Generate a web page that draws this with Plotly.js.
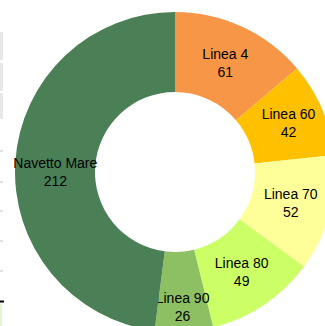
<!DOCTYPE html>
<html>
<head>
<meta charset="utf-8">
<script src="https://cdn.plot.ly/plotly-3.0.1.min.js"></script>
<style>
html,body{margin:0;padding:0;overflow:hidden;width:325px;height:326px;background:#fff;}
#chart{width:340px;height:340px;}
</style>
</head>
<body>
<div id="chart"></div>
<script>
const labels = ["Linea 4", "Linea 60", "Linea 70", "Linea 80", "Linea 90", "Navetto Mare"];
const values = [61, 42, 52, 49, 26, 212];
const colors = ["#F79646", "#FFC000", "#FFFF99", "#CCFF66", "#8CC063", "#4B8057"];

const W = 340, H = 340, L = 15, T = 12, R = 5, B = 8;
const PW = W - L - R, PH = H - T - B;
function px(x){ return (x - L) / PW; }
function py(y){ return 1 - (y - T) / PH; }

const shapes = [];
[[32,60],[63,91],[93,119]].forEach(([a,b]) => {
  shapes.push({type:"rect", xref:"paper", yref:"paper", x0:px(0), x1:px(3), y0:py(b), y1:py(a),
    fillcolor:"#e8e8e8", line:{width:0}, layer:"below"});
});
[151,182,211,241,271].forEach(y => {
  shapes.push({type:"line", xref:"paper", yref:"paper", x0:px(0), x1:px(3), y0:py(y), y1:py(y),
    line:{color:"#c0c0c0", width:1}, layer:"below"});
});
shapes.push({type:"line", xref:"paper", yref:"paper", x0:px(0), x1:px(4), y0:py(301.5), y1:py(301.5),
  line:{color:"#000", width:2}, layer:"below"});
shapes.push({type:"rect", xref:"paper", yref:"paper", x0:px(0), x1:px(2), y0:py(340), y1:py(303),
  fillcolor:"#e6f4d6", line:{width:0}, layer:"below"});

Plotly.newPlot("chart", [{
  type: "pie",
  labels: labels,
  values: values,
  hole: 0.5,
  sort: false,
  direction: "clockwise",
  rotation: 0,
  marker: {colors: colors, line: {width: 0}},
  textinfo: "label+value",
  textposition: "inside",
  insidetextorientation: "horizontal",
  textfont: {family: "Liberation Sans, Arial, sans-serif", size: 14, color: "#000"},
  showlegend: false,
  domain: {x: [0, 1], y: [0, 1]}
}], {
  width: W, height: H,
  margin: {l: L, r: R, t: T, b: B, pad: 0},
  paper_bgcolor: "#fff",
  plot_bgcolor: "#fff",
  showlegend: false,
  uniformtext: {mode: "show", minsize: 14},
  shapes: shapes
}, {staticPlot: true, displayModeBar: false});
</script>
</body>
</html>
